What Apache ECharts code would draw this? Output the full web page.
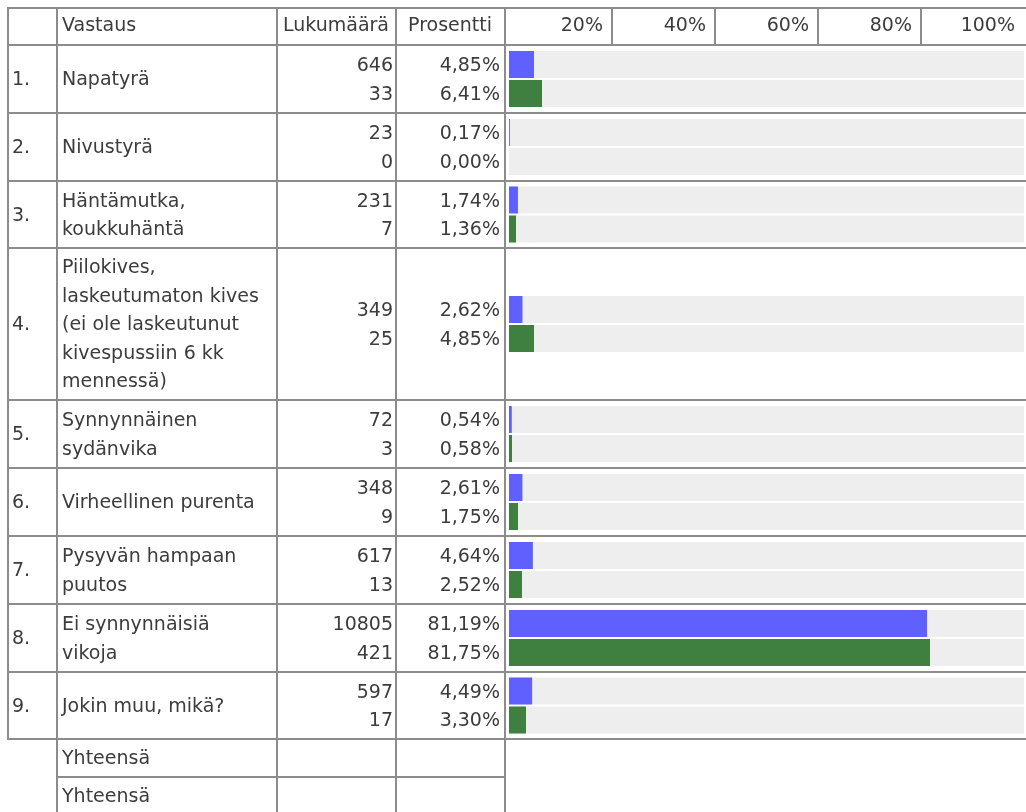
<!DOCTYPE html>
<html>
<head>
<meta charset="utf-8">
<script src="https://cdn.jsdelivr.net/npm/echarts@6/dist/echarts.min.js"></script>
<style>
html,body{margin:0;padding:0;background:#fff;}
#chart{width:1026px;height:812px;}
</style>
</head>
<body>
<div id="chart"></div>
<script>
// ---- data ----
var rowNumbers = ['1.', '2.', '3.', '4.', '5.', '6.', '7.', '8.', '9.'];
var answers = [
  'Napatyrä',
  'Nivustyrä',
  'Häntämutka,\nkoukkuhäntä',
  'Piilokives,\nlaskeutumaton kives\n(ei ole laskeutunut\nkivespussiin 6 kk\nmennessä)',
  'Synnynnäinen\nsydänvika',
  'Virheellinen purenta',
  'Pysyvän hampaan\npuutos',
  'Ei synnynnäisiä\nvikoja',
  'Jokin muu, mikä?'
];
var countsA = [646, 23, 231, 349, 72, 348, 617, 10805, 597];
var countsB = [33, 0, 7, 25, 3, 9, 13, 421, 17];
var percentA = [4.85, 0.17, 1.74, 2.62, 0.54, 2.61, 4.64, 81.19, 4.49];
var percentB = [6.41, 0.00, 1.36, 4.85, 0.58, 1.75, 2.52, 81.75, 3.30];
var headerLabels = ['Vastaus', 'Lukumäärä', 'Prosentti'];
var totalLabels = ['Yhteensä', 'Yhteensä'];

// ---- layout ----
var rowLines = [44, 112, 180, 247, 399, 467, 535, 603, 671, 738];
var totalLines = [738, 776, 814];
var LINE = '#8c8c8c';
var TXT = '#3c3c3c';
var FONT = 'DejaVu Sans';
var FS = 19;
var LH = 28.5;
var DY = 1.5;
var barLeft = 509, barRight = 2;

function pct(v) { return v.toFixed(2).replace('.', ',') + '%'; }
function txt(x, y, text, align, lh) {
  var s = { text: text, align: align, fill: TXT, fontFamily: FONT, fontSize: FS, verticalAlign: 'middle' };
  if (lh) s.lineHeight = lh;
  return { type: 'text', x: x, y: y + DY, style: s, silent: true };
}

var grids = [], xAxes = [], yAxes = [], series = [], graphics = [];

// header grid (axis labels + header vertical lines)
grids.push({ left: barLeft, right: barRight, top: 7, height: 37 });
xAxes.push({
  gridIndex: 0, type: 'value', min: 0, max: 100, interval: 20, position: 'bottom',
  axisLine: { show: false }, axisTick: { show: false },
  splitLine: { show: true, showMinLine: false, showMaxLine: false, lineStyle: { color: LINE, width: 2 } },
  axisLabel: {
    inside: true, margin: 8, align: 'right', padding: [0, 9, 0, 0],
    color: TXT, fontFamily: FONT, fontSize: FS,
    formatter: function (v) { return v === 0 ? '' : v + '%'; }
  }
});
yAxes.push({ gridIndex: 0, type: 'category', data: ['h'], show: false });

for (var i = 0; i < answers.length; i++) {
  var gi = i + 1;
  grids.push({ left: barLeft, right: barRight, top: rowLines[i] + 2, height: rowLines[i + 1] - rowLines[i] - 2 });
  xAxes.push({ gridIndex: gi, type: 'value', min: 0, max: 100, show: false });
  yAxes.push({ gridIndex: gi, type: 'category', data: ['r' + i], show: false, inverse: true });
  series.push({
    type: 'bar', xAxisIndex: gi, yAxisIndex: gi, data: [percentA[i]],
    barWidth: 27, barGap: '7.4%', silent: true,
    showBackground: true, backgroundStyle: { color: '#eeeeee' },
    itemStyle: { color: '#6060ff' }
  });
  series.push({
    type: 'bar', xAxisIndex: gi, yAxisIndex: gi, data: [percentB[i]],
    barWidth: 27, barGap: '7.4%', silent: true,
    showBackground: true, backgroundStyle: { color: '#eeeeee' },
    itemStyle: { color: '#3f7f3f' }
  });
  var cy = (rowLines[i] + 2 + rowLines[i + 1]) / 2;
  graphics.push(txt(12, cy, rowNumbers[i], 'left'));
  graphics.push(txt(62, cy, answers[i], 'left', LH));
  graphics.push(txt(393, cy - LH / 2, String(countsA[i]), 'right'));
  graphics.push(txt(393, cy + LH / 2, String(countsB[i]), 'right'));
  graphics.push(txt(500, cy - LH / 2, pct(percentA[i]), 'right'));
  graphics.push(txt(500, cy + LH / 2, pct(percentB[i]), 'right'));
}

graphics.push(txt(62, 25, headerLabels[0], 'left'));
graphics.push(txt(336, 25, headerLabels[1], 'center'));
graphics.push(txt(450, 25, headerLabels[2], 'center'));
for (var t = 0; t < totalLabels.length; t++) {
  var ty = (totalLines[t] + 2 + totalLines[t + 1]) / 2;
  graphics.push(txt(62, ty, totalLabels[t], 'left'));
}

function hLine(y, x1, x2) { graphics.push({ type: 'rect', shape: { x: x1, y: y, width: x2 - x1, height: 2 }, style: { fill: LINE }, silent: true }); }
function vLine(x, y1, y2) { graphics.push({ type: 'rect', shape: { x: x, y: y1, width: 2, height: y2 - y1 }, style: { fill: LINE }, silent: true }); }
hLine(7, 7, 1026);
for (var r = 0; r < rowLines.length; r++) hLine(rowLines[r], 7, 1026);
hLine(776, 56, 506);
vLine(7, 7, 740);
vLine(56, 7, 812);
vLine(276, 7, 812);
vLine(395, 7, 812);
vLine(504, 7, 812);

var chart = echarts.init(document.getElementById('chart'), null, { renderer: 'canvas' });
chart.setOption({
  animation: false,
  grid: grids, xAxis: xAxes, yAxis: yAxes, series: series,
  graphic: { elements: graphics }
});
</script>
</body>
</html>
